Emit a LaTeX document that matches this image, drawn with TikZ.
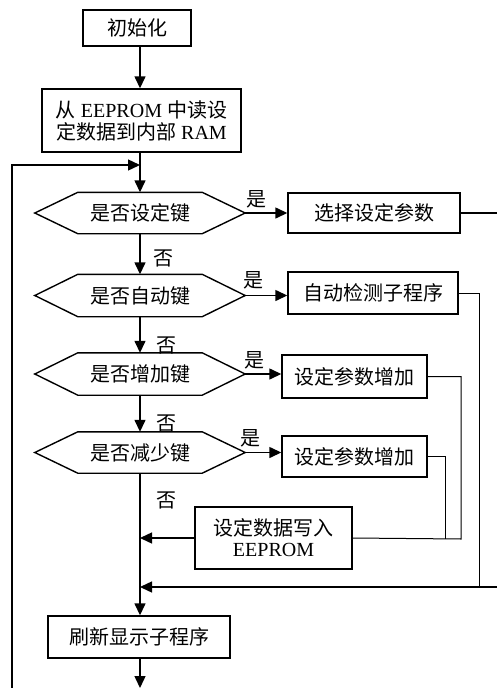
\documentclass[tikz,border=0pt]{standalone}
\usepackage{fontspec}
\setmainfont{Liberation Serif}
\newfontfamily\cjk{Noto Sans CJK SC}
\usetikzlibrary{arrows.meta,calc}
\newcommand\zh[1]{{\cjk #1}}
\begin{document}
\begin{tikzpicture}[x=1pt,y=-1pt,
  font=\fontsize{20}{23}\selectfont,
  box/.style={draw,line width=1.4pt,inner sep=0pt,align=center},
  hexin/.style={inner sep=0pt,minimum width=124pt,minimum height=41pt},
  arr/.style={-{Triangle[length=12pt,width=11pt]},line width=1.4pt},
  ln/.style={line width=1.4pt},
  thinln/.style={line width=1pt},
  lab/.style={font=\cjk\fontsize{20}{23}\selectfont,inner sep=0pt}]
\useasboundingbox (0,0) rectangle (496,688);
\coordinate (m) at (140,0);
% boxes
\node[box,minimum width=108pt,minimum height=36pt] (init) at (137,28) {\zh{初始化}};
\node[box,minimum width=199pt,minimum height=63pt] (ee) at (141.5,120.5) {\zh{从} EEPROM \zh{中读设}\\[-1pt]\zh{定数据到内部} RAM};
\node[hexin] (d1) at (140,213) {\zh{是否设定键}};
\node[hexin,minimum height=42pt] (d2) at (140,295.5) {\zh{是否自动键}};
\node[hexin,minimum height=42pt] (d3) at (140,374) {\zh{是否增加键}};
\node[hexin] (d4) at (140,452.5) {\zh{是否减少键}};
\foreach \d in {d1,d2,d3,d4}{
  \coordinate (\d-R) at ($(\d.east)+(43,0)$);
  \coordinate (\d-L) at ($(\d.west)+(-43,0)$);
  \draw[ln] (\d.north west) -- (\d.north east) -- (\d-R) -- (\d.south east) -- (\d.south west) -- (\d-L) -- cycle;
}
\node[box,minimum width=172pt,minimum height=40pt] (b1) at (374,213) {\zh{选择设定参数}};
\node[box,minimum width=170pt,minimum height=42pt] (b2) at (373,293) {\zh{自动检测子程序}};
\node[box,minimum width=145pt,minimum height=43pt] (b3) at (354.5,376.5) {\zh{设定参数增加}};
\node[box,minimum width=145pt,minimum height=41pt] (b4) at (354.5,456.5) {\zh{设定参数增加}};
\node[box,minimum width=157pt,minimum height=62pt] (wb) at (273.5,538) {\zh{设定数据写入}\\[-2pt]EEPROM};
\node[box,minimum width=182pt,minimum height=42pt] (b5) at (139,637) {\zh{刷新显示子程序}};
% labels
\node[lab] (y1) at (256,199) {是};
\node[lab] (y2) at (253,280) {是};
\node[lab] (y3) at (254,360) {是};
\node[lab] (y4) at (250,438) {是};
\node[lab] (n1) at (163,258) {否};
\node[lab] (n2) at (166,345) {否};
\node[lab] (n3) at (166,423) {否};
\node[lab] (n4) at (166,500) {否};
% coordinates
\coordinate (lpb) at (12,688);
\coordinate (lpt) at (12,165);
\coordinate (j1) at (498,587);
\coordinate (j2) at (479,587);
\coordinate (j3) at (461,539);
\coordinate (j4) at (445,539);
\coordinate (endp) at (140,688);
% connectors
\draw[arr] (init.south -| m) -- (ee.north -| m);
\draw[arr] (ee.south -| m) -- (d1.north);
\draw[arr] (lpb) -- (lpt) -- (lpt -| m);
\draw[arr] (d1-R) -- (d1-R -| b1.west);
\draw[arr] (d2-R) -- (d2-R -| b2.west);
\draw[arr] (d3-R) -- (d3-R -| b3.west);
\draw[arr] (d4-R) -- (d4-R -| b4.west);
\draw[arr] (d1.south) -- (d2.north);
\draw[arr] (d2.south) -- (d3.north);
\draw[arr] (d3.south) -- (d4.north);
\draw[arr] (d4.south) -- (b5.north -| m);
\draw[arr] (wb.west) -- (wb.west -| m);
\draw[thinln] (b3.east) -| (j3) -- (wb.east);
\draw[thinln] (b4.east) -| (j4);
\draw[thinln] (b2.east) -| (j2);
\draw[arr] (b1.east) -| (j1) -- (j1 -| m);
\draw[arr] (b5.south -| m) -- (endp);
\end{tikzpicture}
\end{document}
